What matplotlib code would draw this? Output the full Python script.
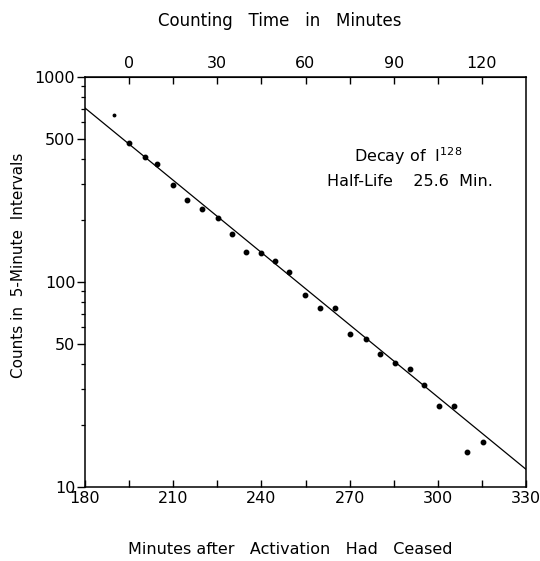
import matplotlib.pyplot as plt
from matplotlib.ticker import FixedLocator, NullFormatter

# minutes after activation ceased vs counts per 5-minute interval
minutes = [190.0, 195.1, 200.3, 204.6, 210.0, 214.8, 219.7, 225.2, 229.9, 234.7,
           240.0, 244.7, 249.5, 254.7, 259.9, 265.1, 270.2, 275.5, 280.2, 285.6,
           290.6, 295.2, 300.5, 305.4, 310.0, 315.4]
counts = [654, 479, 408, 377, 298, 252, 226, 205, 171, 140,
          138, 127, 112, 86, 74.4, 74.4, 55.7, 52.7, 44.4, 40.1,
          37.7, 31.6, 24.8, 24.8, 14.8, 16.6]

# fitted decay line (half-life 25.6 min)
fit_x = [180, 330]
fit_y = [706, 12.2]

bottom_major = [180, 210, 240, 270, 300, 330]
bottom_minor = [195, 225, 255, 285, 315]
top_major = [0, 30, 60, 90, 120]
top_minor = [15, 45, 75, 105]
y_major = [10, 50, 100, 500, 1000]
y_minor = [20, 30, 40, 60, 70, 80, 90, 200, 300, 400, 600, 700, 800, 900]

plt.rcParams['font.family'] = ['DejaVu Sans']
plt.rcParams['mathtext.default'] = 'regular'

W, H = 540, 561
fig = plt.figure(figsize=(5.4, 5.61), dpi=100)
ax = fig.add_axes([85/W, 1-487/H, 441/W, 410/H])

def px(x, y):
    return x / W, 1 - y / H

ax.plot(fit_x, fit_y, color='black', lw=0.9)
ax.plot(minutes[1:], counts[1:], 'o', color='black', ms=3.2)
ax.plot(minutes[:1], counts[:1], 'o', color='black', ms=1.8)

ax.set_yscale('log')
ax.set_xlim(180, 330)
ax.set_ylim(10, 1000)

ax.yaxis.set_major_locator(FixedLocator(y_major))
ax.yaxis.set_minor_locator(FixedLocator(y_minor))
ax.yaxis.set_minor_formatter(NullFormatter())
ax.set_yticklabels([str(v) for v in y_major])
ax.tick_params(axis='y', which='major', direction='out', length=6, width=1,
               labelsize=11.5, pad=1)
ax.tick_params(axis='y', which='minor', direction='out', length=3, width=0.9)

ax.xaxis.set_major_locator(FixedLocator(bottom_major))
ax.xaxis.set_minor_locator(FixedLocator(bottom_minor))
ax.tick_params(axis='x', which='both', direction='in', length=5, width=1,
               labelsize=11.5, pad=3)

top = ax.secondary_xaxis('top', functions=(lambda x: x - 195, lambda x: x + 195))
top.xaxis.set_major_locator(FixedLocator(top_major))
top.xaxis.set_minor_locator(FixedLocator(top_minor))
top.tick_params(axis='x', which='both', direction='in', length=5, width=1,
                labelsize=11.5, pad=4)

for s in ax.spines.values():
    s.set_linewidth(1.1)

fig.text(*px(280, 21), 'Counting   Time   in   Minutes', ha='center', va='center',
         fontsize=12)
fig.text(*px(290, 549), 'Minutes after   Activation   Had   Ceased', ha='center',
         va='center', fontsize=11.5)
fig.text(*px(19, 265), 'Counts in  5-Minute  Intervals', rotation=90,
         ha='center', va='center', fontsize=11)

fig.text(*px(408, 156), 'Decay of  I$^{128}$', ha='center', va='center',
         fontsize=11.5)
fig.text(*px(327, 182), 'Half-Life    25.6  Min.', ha='left', va='center',
         fontsize=11.5)

fig.savefig('out.png', dpi=100)
